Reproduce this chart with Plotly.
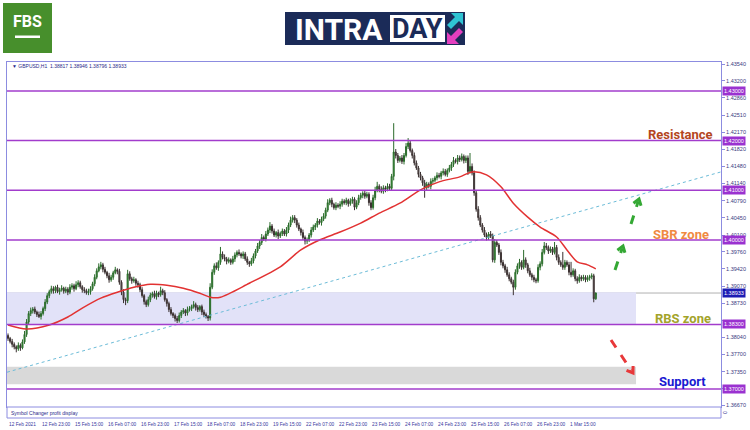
import plotly.graph_objects as go
import math

# ---------------- data ----------------
closes = [
    1.3802, 1.3796, 1.3790, 1.3785, 1.3781, 1.3788, 1.3783, 1.3795, 1.3810, 1.3835,
    1.3852, 1.3858, 1.3861, 1.3855, 1.3850, 1.3846, 1.3852, 1.3862, 1.3875, 1.3888,
    1.3896, 1.3902, 1.3898, 1.3905, 1.3896, 1.3900, 1.3903, 1.3897, 1.3901, 1.3895,
    1.3905, 1.3908, 1.3902, 1.3910, 1.3914, 1.3906, 1.3900, 1.3898, 1.3894, 1.3896,
    1.3902, 1.3912, 1.3925, 1.3938, 1.3946, 1.3950, 1.3941, 1.3935, 1.3928, 1.3920,
    1.3925, 1.3934, 1.3940, 1.3937, 1.3915, 1.3895, 1.3880, 1.3878, 1.3932, 1.3922,
    1.3918, 1.3920, 1.3913, 1.3910, 1.3900, 1.3888, 1.3876, 1.3870, 1.3880, 1.3889,
    1.3892, 1.3886, 1.3893, 1.3890, 1.3898, 1.3894, 1.3880, 1.3872, 1.3860, 1.3852,
    1.3848, 1.3842, 1.3838, 1.3848, 1.3855, 1.3858, 1.3853, 1.3860, 1.3862, 1.3866,
    1.3870, 1.3864, 1.3860, 1.3866, 1.3855, 1.3850, 1.3846, 1.3843, 1.3905, 1.3935,
    1.3948, 1.3944, 1.3955, 1.3972, 1.3965, 1.3962, 1.3957, 1.3960, 1.3955, 1.3962,
    1.3970, 1.3975, 1.3972, 1.3968, 1.3972, 1.3962, 1.3955, 1.3952, 1.3958, 1.3968,
    1.3978, 1.3988, 1.3995, 1.4005, 1.4002, 1.4012, 1.4020, 1.4028, 1.4018, 1.4010,
    1.4015, 1.4008, 1.4013, 1.4018, 1.4012, 1.4020, 1.4030, 1.4040, 1.4045, 1.4040,
    1.4030, 1.4022, 1.4015, 1.4005, 1.3998, 1.4000, 1.4010, 1.4020, 1.4026, 1.4030,
    1.4038, 1.4035, 1.4042, 1.4048, 1.4060, 1.4075, 1.4080, 1.4072, 1.4065, 1.4070,
    1.4068, 1.4072, 1.4078, 1.4075, 1.4080, 1.4073, 1.4078, 1.4082, 1.4066, 1.4075,
    1.4085, 1.4090, 1.4094, 1.4088, 1.4092, 1.4075, 1.4065, 1.4085, 1.4100, 1.4108,
    1.4102, 1.4098, 1.4105, 1.4102, 1.4108, 1.4104, 1.4128, 1.4177, 1.4170, 1.4160,
    1.4165, 1.4158, 1.4170, 1.4188, 1.4195, 1.4180, 1.4170, 1.4155, 1.4145, 1.4132,
    1.4125, 1.4115, 1.4105, 1.4112, 1.4108, 1.4118, 1.4120, 1.4125, 1.4130, 1.4128,
    1.4135, 1.4138, 1.4132, 1.4140, 1.4145, 1.4152, 1.4160, 1.4158, 1.4165, 1.4162,
    1.4168, 1.4160, 1.4165, 1.4138, 1.4148, 1.4135, 1.4095, 1.4062, 1.4045, 1.4030,
    1.4020, 1.4010, 1.4005, 1.4012, 1.4008, 1.3960, 1.3995, 1.3990, 1.3975, 1.3955,
    1.3948, 1.3940, 1.3930, 1.3922, 1.3915, 1.3905, 1.3935, 1.3948, 1.3955, 1.3945,
    1.3960, 1.3950, 1.3938, 1.3930, 1.3925, 1.3920, 1.3918, 1.3945, 1.3952, 1.3975,
    1.3988, 1.3985, 1.3978, 1.3982, 1.3975, 1.3985, 1.3965, 1.3955, 1.3950, 1.3945,
    1.3955, 1.3950, 1.3935, 1.3930, 1.3938, 1.3922, 1.3918, 1.3925, 1.3922, 1.3925,
    1.3920, 1.3924, 1.3926, 1.3928, 1.38817, 1.38933,
]
first_open = 1.3808

# wick lengths read from the candles, in pips (0.0001)
upper_wick_pips = [
    4, 3, 5, 4, 3, 6, 4, 5, 7, 6, 5, 6, 4, 5, 3, 6, 5, 4, 6, 5,
    4, 6, 5, 3, 5, 4, 6, 3, 5, 4, 6, 5, 4, 7, 5, 4, 3, 5, 4, 6,
    5, 4, 6, 5, 7, 6, 4, 5, 3, 6, 5, 4, 6, 3, 5, 4, 6, 4, 8, 5,
    4, 6, 3, 5, 4, 5, 3, 4, 6, 5, 4, 6, 5, 3, 8, 4, 5, 3, 4, 5,
    3, 4, 5, 6, 4, 5, 3, 6, 5, 4, 7, 4, 5, 3, 4, 5, 4, 3, 8, 6,
    5, 7, 4, 14, 5, 6, 4, 5, 3, 6, 5, 4, 6, 3, 5, 4, 5, 3, 6, 5,
    4, 6, 5, 7, 4, 6, 5, 8, 4, 5, 3, 6, 4, 5, 4, 6, 5, 7, 5, 5,
    4, 5, 3, 6, 4, 5, 4, 6, 5, 4, 6, 4, 5, 6, 5, 7, 4, 5, 3, 6,
    4, 6, 5, 4, 5, 3, 6, 5, 4, 5, 6, 5, 4, 6, 5, 4, 5, 6, 7, 9,
    4, 6, 5, 4, 6, 5, 5, 58, 6, 5, 4, 6, 5, 7, 10, 5, 4, 6, 5, 4,
    5, 4, 6, 5, 4, 6, 5, 4, 6, 5, 4, 6, 5, 4, 6, 5, 7, 4, 6, 5,
    6, 4, 5, 5, 27, 6, 5, 4, 6, 5, 4, 6, 5, 4, 6, 5, 7, 5, 4, 6,
    5, 4, 6, 5, 4, 5, 6, 5, 7, 4, 20, 5, 4, 6, 4, 5, 4, 6, 5, 7,
    8, 6, 4, 5, 4, 11, 5, 6, 4, 26, 5, 4, 6, 21, 5, 4, 5, 6, 4, 5,
    4, 5, 4, 5, 4, 1.3,
]
lower_wick_pips = [
    5, 4, 6, 5, 7, 4, 6, 3, 4, 5, 4, 5, 6, 4, 5, 3, 6, 4, 5, 4,
    5, 4, 6, 5, 3, 6, 4, 5, 4, 6, 4, 5, 6, 3, 5, 4, 6, 5, 4, 5,
    6, 4, 5, 4, 3, 5, 6, 4, 5, 6, 4, 5, 3, 6, 5, 6, 7, 9, 5, 4,
    6, 4, 5, 6, 5, 4, 6, 5, 4, 5, 5, 4, 6, 5, 4, 5, 4, 6, 5, 4,
    5, 6, 5, 4, 5, 4, 6, 5, 4, 5, 4, 6, 5, 4, 6, 5, 4, 6, 5, 4,
    5, 4, 6, 5, 4, 5, 6, 4, 5, 4, 6, 5, 4, 5, 6, 4, 5, 6, 4, 5,
    5, 4, 6, 5, 4, 5, 4, 6, 5, 4, 5, 6, 4, 5, 4, 5, 6, 4, 5, 6,
    5, 4, 6, 5, 7, 6, 4, 5, 4, 6, 5, 4, 6, 4, 5, 4, 5, 6, 4, 5,
    4, 6, 5, 4, 5, 6, 4, 5, 6, 4, 5, 4, 6, 5, 4, 6, 5, 4, 5, 4,
    6, 4, 5, 6, 4, 5, 4, 8, 6, 5, 4, 5, 6, 4, 5, 4, 6, 5, 4, 6,
    5, 6, 20, 5, 4, 6, 5, 4, 5, 4, 6, 5, 4, 5, 4, 6, 5, 4, 6, 5,
    4, 6, 5, 7, 4, 5, 6, 5, 6, 4, 5, 4, 6, 5, 4, 5, 6, 4, 5, 6,
    5, 6, 4, 5, 4, 16, 5, 4, 6, 5, 4, 6, 5, 4, 6, 5, 5, 4, 6, 5,
    4, 5, 6, 4, 5, 4, 6, 5, 4, 5, 5, 4, 6, 5, 4, 5, 6, 4, 5, 4,
    5, 4, 6, 5, 7, 2.1,
]

# red moving average, read at sample bars
ma_bars = [0, 9, 20, 29, 36, 45, 53, 61, 69, 77, 85, 93, 98, 103, 117, 132, 142, 151,
           161, 171, 180, 190, 200, 209, 219, 225, 232, 239, 245, 252, 258, 266, 271,
           276, 281, 285]
ma_values = [1.3829, 1.3821, 1.3829, 1.3845, 1.3863, 1.3883, 1.3895, 1.3905, 1.3911,
             1.3909, 1.3903, 1.3893, 1.3885, 1.3885, 1.3913, 1.3946, 1.3980, 1.4000,
             1.4016, 1.4034, 1.4054, 1.4074, 1.4101, 1.4117, 1.4127, 1.4137, 1.4131,
             1.4107, 1.4074, 1.4046, 1.4026, 1.4006, 1.3980, 1.3956, 1.3950, 1.3942]

trend_bars = [-0.5, 345.7]
trend_prices = [1.3734, 1.4137]

levels = [1.43, 1.42, 1.41, 1.40, 1.383, 1.37]
level_labels = ["1.43000", "1.42000", "1.41000", "1.40000", "1.38300", "1.37000"]
bid_price = 1.38933
rbs_zone = [1.3830, 1.3895]
support_zone = [1.3710, 1.3745]
zone_bars = [-0.5, 304.5]

y_ticks = [1.43540, 1.43200, 1.42860, 1.42510, 1.42170, 1.41820, 1.41480, 1.41140,
           1.40790, 1.40450, 1.40100, 1.39760, 1.39420, 1.39070, 1.38730, 1.38380,
           1.38040, 1.37700, 1.37350, 1.37010, 1.36670]
hidden_ticks = [1.38380, 1.37010]   # covered by the level boxes in the picture
x_tick_bars = [0, 16, 32, 48, 64, 80, 96, 112, 128, 144, 160, 176, 192, 208, 224, 240, 256, 272]
x_tick_labels = ["12 Feb 2021", "12 Feb 23:00", "15 Feb 15:00", "16 Feb 07:00", "16 Feb 23:00",
                 "17 Feb 15:00", "18 Feb 07:00", "18 Feb 23:00", "19 Feb 15:00", "22 Feb 07:00",
                 "22 Feb 23:00", "23 Feb 15:00", "24 Feb 07:00", "24 Feb 23:00", "25 Feb 15:00",
                 "26 Feb 07:00", "26 Feb 23:00", "1 Mar 15:00"]

# ---------------- build ----------------
opens = [first_open] + closes[:-1]
highs = [max(o, c) + u * 1e-4 for o, c, u in zip(opens, closes, upper_wick_pips)]
lows = [min(o, c) - w * 1e-4 for o, c, w in zip(opens, closes, lower_wick_pips)]
bars = list(range(len(closes)))

W, H = 750, 430
L, R, T, B = 7, 721, 62, 407
def px(x):
    return (x - L) / (R - L)
def py(y):
    return (B - y) / (B - T)

FRAME = "#8c8ce0"
LEVEL = "#a23ccc"
BOLDF = "Roboto"
SMALLF = "Liberation Sans"

fig = go.Figure()
fig.add_trace(go.Scatter(x=trend_bars, y=trend_prices, mode="lines",
                         line=dict(color="#6cbcd8", width=1, dash="dot"), hoverinfo="skip"))
fig.add_trace(go.Candlestick(
    x=bars, open=opens, high=highs, low=lows, close=closes,
    increasing=dict(fillcolor="#3aa63a", line=dict(color="#2a6a2a", width=1)),
    decreasing=dict(fillcolor="#7a6666", line=dict(color="#3a3030", width=1)),
    whiskerwidth=0, hoverinfo="skip"))
fig.add_trace(go.Scatter(x=ma_bars, y=ma_values, mode="lines",
                         line=dict(color="#e23232", width=1.5, shape="spline", smoothing=0.8),
                         hoverinfo="skip"))

shapes = []
shapes.append(dict(type="rect", xref="x", yref="y", x0=zone_bars[0], x1=zone_bars[1],
                   y0=rbs_zone[0], y1=rbs_zone[1], fillcolor="#e2e2f8", line=dict(width=0),
                   layer="below"))
shapes.append(dict(type="rect", xref="x", yref="y", x0=zone_bars[0], x1=zone_bars[1],
                   y0=support_zone[0], y1=support_zone[1], fillcolor="#d9d9d9",
                   line=dict(width=0), layer="below"))
shapes.append(dict(type="line", xref="paper", yref="y", x0=0, x1=1, y0=bid_price, y1=bid_price,
                   line=dict(color="#b0b0b0", width=1), layer="below"))
for lv in levels:
    shapes.append(dict(type="line", xref="paper", yref="y", x0=0, x1=1, y0=lv, y1=lv,
                       line=dict(color=LEVEL, width=1.5)))
shapes.append(dict(type="rect", xref="paper", yref="paper", x0=0, x1=1, y0=py(418), y1=py(407),
                   line=dict(color=FRAME, width=1), fillcolor="white"))

def arrow(tail, tip, color):
    dx, dy = tip[0] - tail[0], tip[1] - tail[1]
    ln = math.hypot(dx, dy)
    ux, uy = dx / ln, dy / ln
    hl = 7
    pts = []
    for ang in (0.6, -0.6):
        ca, sa = math.cos(ang), math.sin(ang)
        bx = -(ux * ca - uy * sa) * hl
        by = -(ux * sa + uy * ca) * hl
        pts.append((tip[0] + bx, tip[1] + by))
    shaft_end = (tip[0] - ux * 3, tip[1] - uy * 3)
    out = [dict(type="line", xref="paper", yref="paper", x0=px(tail[0]), y0=py(tail[1]),
                x1=px(shaft_end[0]), y1=py(shaft_end[1]),
                line=dict(color=color, width=3, dash="dash"))]
    path = "M {} {} L {} {} L {} {}".format(px(pts[0][0]), py(pts[0][1]), px(tip[0]), py(tip[1]),
                                            px(pts[1][0]), py(pts[1][1]))
    out.append(dict(type="path", xref="paper", yref="paper", path=path,
                    line=dict(color=color, width=3)))
    return out

shapes += arrow((615, 270), (623, 246), "#34a834")
shapes += arrow((631, 224), (639, 199), "#34a834")
shapes += arrow((611, 340), (633, 373), "#e8383a")

# header: FBS logo
shapes.append(dict(type="rect", xref="paper", yref="paper", x0=px(3), x1=px(52), y0=py(53), y1=py(3),
                   fillcolor="#478f2c", line=dict(width=0)))
shapes.append(dict(type="rect", xref="paper", yref="paper", x0=px(15), x1=px(40), y0=py(38), y1=py(35.5),
                   fillcolor="white", line=dict(width=0)))
# header: INTRADAY logo
shapes.append(dict(type="rect", xref="paper", yref="paper", x0=px(285), x1=px(465), y0=py(45), y1=py(12),
                   fillcolor="#1b2b58", line=dict(width=0)))
shapes.append(dict(type="rect", xref="paper", yref="paper", x0=px(390), x1=px(445), y0=py(42), y1=py(15),
                   fillcolor="white", line=dict(width=0)))
def poly(points):
    return "M " + " L ".join("{} {}".format(px(a), py(b)) for a, b in points) + " Z"
shapes.append(dict(type="path", xref="paper", yref="paper",
                   path=poly([(463, 13), (451, 13), (455, 17), (447, 25), (451, 29), (459, 21), (463, 25)]),
                   fillcolor="#2fc3d3", line=dict(width=0)))
shapes.append(dict(type="path", xref="paper", yref="paper",
                   path=poly([(447, 44), (459, 44), (455, 40), (463, 32), (459, 28), (451, 36), (447, 32)]),
                   fillcolor="#e43fbf", line=dict(width=0)))

annotations = []
def note(x, y, text, font, xanchor="center", yanchor="middle", **kw):
    d = dict(x=x, y=y, xref="paper", yref="paper", text=text, showarrow=False, font=font,
             xanchor=xanchor, yanchor=yanchor)
    d.update(kw)
    annotations.append(d)

for lv, lab in zip(levels, level_labels):
    note(1, lv, lab, dict(family=SMALLF, size=5.5, color="white"), xanchor="left",
         yref="y", xshift=1, bgcolor="#9a32d0", borderpad=1)
note(1, bid_price, "1.38933", dict(family=SMALLF, size=5.5, color="white"), xanchor="left",
     yref="y", xshift=1, bgcolor="#1c1cb4", borderpad=1)
for b, lab in zip(x_tick_bars, x_tick_labels):
    note(b, py(424), lab, dict(family=SMALLF, size=4.8, color="#3838a0"), xanchor="left",
         xref="x", xshift=-1)
for txt, cx, cy, col in [("Resistance", 680, 134, "#b4461e"), ("SBR zone", 681, 234, "#f08a42"),
                         ("RBS zone", 683, 318, "#a3a32a"), ("Support", 682, 381, "#1a1ad2")]:
    note(px(cx), py(cy), "<b>" + txt + "</b>", dict(family=BOLDF, size=13, color=col))
note(px(10), py(66), "▼ GBPUSD,H1  1.38817 1.38946 1.38796 1.38933",
     dict(family=SMALLF, size=5, color="#2a2a8a"), xanchor="left")
note(px(9), py(412.5), "Symbol Changer profit display",
     dict(family=SMALLF, size=5, color="#2a2a8a"), xanchor="left")
note(px(725), py(413), "0", dict(family=SMALLF, size=5, color="#2a2a8a"), textangle=-90)
note(px(27.5), py(21), "<b>FBS</b>", dict(family=BOLDF, size=16, color="white"))
note(px(339), py(29), "<b>INTRA</b>", dict(family=BOLDF, size=30, color="white"))
note(px(417.5), py(29), "<b>DAY</b>", dict(family=BOLDF, size=27, color="#1b2b58"))

fig.update_layout(
    width=W, height=H, margin=dict(l=L, r=W - R, t=T, b=H - B, autoexpand=False),
    paper_bgcolor="white", plot_bgcolor="white", showlegend=False,
    shapes=shapes, annotations=annotations,
    xaxis=dict(range=[-0.5, 345.7], showgrid=False, zeroline=False, showticklabels=False,
               ticks="", showline=True, mirror=True, linecolor=FRAME, linewidth=1,
               rangeslider=dict(visible=False), fixedrange=True),
    yaxis=dict(range=[1.3664, 1.43581], side="right", tickmode="array", tickvals=y_ticks,
               ticktext=["" if v in hidden_ticks else "{:.5f}".format(v) for v in y_ticks],
               ticks="outside", ticklen=3,
               tickcolor=FRAME, showline=True, mirror=True, linecolor=FRAME, linewidth=1,
               showgrid=False, zeroline=False, fixedrange=True, automargin=False,
               tickfont=dict(family=SMALLF, size=5.5, color="#3a3a80")),
)

fig.write_html("out.html", config={"displayModeBar": False},
               post_script="document.body.style.margin='0';document.body.style.overflow='hidden';")
